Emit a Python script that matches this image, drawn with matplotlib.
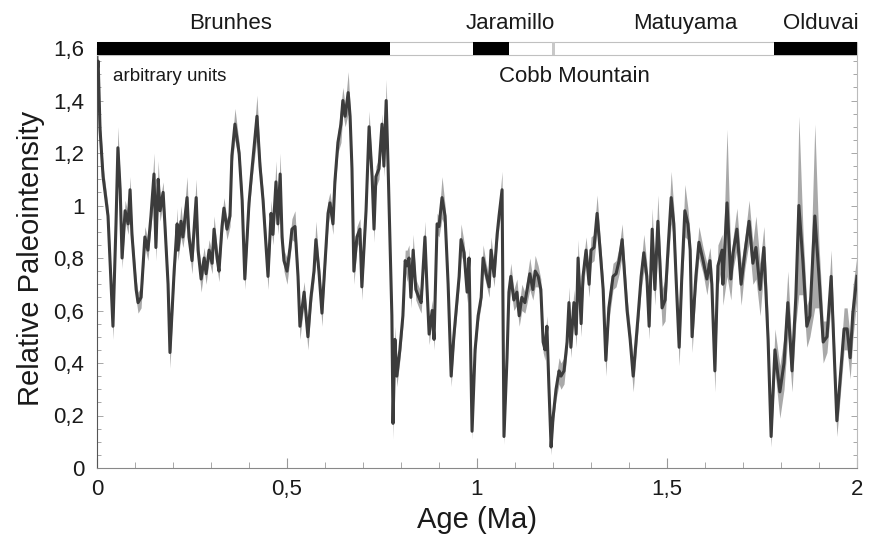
import matplotlib
matplotlib.use("Agg")
import matplotlib.pyplot as plt
from matplotlib.patches import Rectangle
from matplotlib.ticker import MultipleLocator, FixedLocator
import numpy as np

plt.rcParams['font.family'] = ['Liberation Sans', 'DejaVu Sans']

# ---- data -------------------------------------------------------------
age = [
    0.000, 0.003, 0.008, 0.016, 0.029, 0.034, 0.042, 0.050, 0.055, 0.061,
    0.066, 0.074, 0.082, 0.087, 0.092, 0.103, 0.108, 0.116, 0.126, 0.134,
    0.142, 0.150, 0.155, 0.161, 0.166, 0.174, 0.179, 0.187, 0.192, 0.203,
    0.211, 0.213, 0.221, 0.226, 0.237, 0.242, 0.250, 0.261, 0.266, 0.274,
    0.282, 0.287, 0.295, 0.303, 0.308, 0.316, 0.321, 0.329, 0.334, 0.342,
    0.350, 0.355, 0.363, 0.374, 0.382, 0.389, 0.400, 0.408, 0.421, 0.429,
    0.437, 0.450, 0.458, 0.463, 0.471, 0.476, 0.482, 0.487, 0.492, 0.500,
    0.508, 0.513, 0.521, 0.529, 0.534, 0.545, 0.555, 0.563, 0.571, 0.576,
    0.584, 0.592, 0.600, 0.608, 0.613, 0.621, 0.626, 0.634, 0.642, 0.647,
    0.653, 0.661, 0.666, 0.671, 0.676, 0.684, 0.692, 0.697, 0.708, 0.716,
    0.724, 0.729, 0.734, 0.742, 0.750, 0.755, 0.761, 0.766, 0.776, 0.779,
    0.784, 0.789, 0.797, 0.805, 0.811, 0.816, 0.821, 0.826, 0.832, 0.839,
    0.847, 0.853, 0.863, 0.868, 0.874, 0.882, 0.887, 0.895, 0.900, 0.908,
    0.916, 0.924, 0.932, 0.939, 0.945, 0.953, 0.958, 0.966, 0.974, 0.979,
    0.987, 0.995, 1.003, 1.011, 1.016, 1.024, 1.032, 1.037, 1.045, 1.053,
    1.058, 1.066, 1.071, 1.079, 1.084, 1.089, 1.097, 1.105, 1.111, 1.118,
    1.126, 1.132, 1.139, 1.147, 1.153, 1.161, 1.168, 1.174, 1.179, 1.184,
    1.189, 1.195, 1.200, 1.208, 1.216, 1.221, 1.229, 1.237, 1.242, 1.247,
    1.255, 1.261, 1.266, 1.274, 1.279, 1.287, 1.295, 1.300, 1.308, 1.316,
    1.324, 1.332, 1.339, 1.347, 1.358, 1.366, 1.374, 1.382, 1.395, 1.403,
    1.411, 1.424, 1.432, 1.439, 1.447, 1.453, 1.461, 1.468, 1.476, 1.487,
    1.495, 1.503, 1.511, 1.518, 1.524, 1.532, 1.539, 1.547, 1.555, 1.561,
    1.566, 1.576, 1.584, 1.595, 1.605, 1.613, 1.618, 1.626, 1.634, 1.645,
    1.647, 1.658, 1.668, 1.674, 1.684, 1.695, 1.705, 1.716, 1.726, 1.734,
    1.745, 1.755, 1.766, 1.774, 1.784, 1.797, 1.808, 1.818, 1.829, 1.839,
    1.847, 1.858, 1.868, 1.876, 1.889, 1.900, 1.911, 1.921, 1.932, 1.947,
    1.966, 1.974, 1.982, 1.989, 2.000,
]

intensity = [
    1.50, 1.55, 1.29, 1.11, 0.96, 0.80, 0.54, 0.93, 1.22, 1.06,
    0.80, 0.98, 0.93, 1.06, 0.89, 0.68, 0.63, 0.65, 0.88, 0.83,
    0.96, 1.12, 0.84, 1.10, 0.98, 1.05, 0.92, 0.70, 0.44, 0.75,
    0.93, 0.83, 0.94, 0.88, 1.03, 0.88, 0.79, 1.03, 0.83, 0.72,
    0.80, 0.74, 0.83, 0.78, 0.91, 0.80, 0.75, 0.92, 0.99, 0.91,
    0.96, 1.19, 1.31, 1.20, 1.02, 0.72, 1.01, 1.14, 1.34, 1.15,
    1.02, 0.73, 0.97, 0.89, 1.09, 0.93, 1.12, 0.88, 0.79, 0.75,
    0.84, 0.91, 0.92, 0.73, 0.54, 0.67, 0.50, 0.65, 0.75, 0.87,
    0.75, 0.59, 0.78, 0.97, 1.01, 0.93, 1.09, 1.24, 1.31, 1.40,
    1.34, 1.43, 1.34, 1.14, 0.75, 0.88, 0.91, 0.69, 0.98, 1.30,
    1.11, 0.91, 1.11, 1.14, 1.31, 1.15, 1.40, 1.15, 0.58, 0.17,
    0.49, 0.35, 0.45, 0.58, 0.79, 0.77, 0.80, 0.65, 0.83, 0.68,
    0.65, 0.63, 0.88, 0.70, 0.51, 0.60, 0.49, 0.93, 0.92, 1.03,
    0.96, 0.70, 0.35, 0.50, 0.60, 0.73, 0.87, 0.82, 0.67, 0.80,
    0.14, 0.45, 0.58, 0.65, 0.80, 0.74, 0.69, 0.83, 0.73, 0.89,
    0.96, 1.06, 0.12, 0.42, 0.67, 0.73, 0.64, 0.67, 0.58, 0.65,
    0.63, 0.68, 0.74, 0.68, 0.75, 0.73, 0.68, 0.48, 0.45, 0.54,
    0.32, 0.08, 0.19, 0.30, 0.37, 0.35, 0.37, 0.48, 0.63, 0.46,
    0.63, 0.51, 0.80, 0.55, 0.73, 0.83, 0.70, 0.83, 0.84, 0.97,
    0.83, 0.68, 0.41, 0.61, 0.73, 0.74, 0.79, 0.87, 0.60, 0.49,
    0.35, 0.58, 0.73, 0.82, 0.73, 0.54, 0.91, 0.68, 0.94, 0.61,
    0.64, 0.84, 1.03, 0.93, 0.72, 0.46, 0.73, 0.98, 0.93, 0.83,
    0.50, 0.73, 0.86, 0.79, 0.72, 0.79, 0.70, 0.37, 0.77, 0.83,
    0.70, 1.01, 0.72, 0.82, 0.91, 0.70, 0.82, 0.94, 0.78, 0.84,
    0.68, 0.84, 0.49, 0.12, 0.45, 0.29, 0.40, 0.63, 0.37, 0.65,
    1.00, 0.78, 0.54, 0.58, 0.96, 0.73, 0.48, 0.50, 0.73, 0.18,
    0.53, 0.53, 0.42, 0.59, 0.73,
]

error = [
    0.04, 0.06, 0.05, 0.04, 0.04, 0.04, 0.05, 0.04, 0.08, 0.04,
    0.04, 0.04, 0.04, 0.05, 0.04, 0.04, 0.04, 0.04, 0.04, 0.04,
    0.04, 0.08, 0.05, 0.07, 0.04, 0.04, 0.04, 0.04, 0.06, 0.04,
    0.06, 0.04, 0.06, 0.04, 0.08, 0.04, 0.05, 0.07, 0.04, 0.05,
    0.04, 0.04, 0.04, 0.04, 0.05, 0.04, 0.04, 0.04, 0.04, 0.04,
    0.04, 0.04, 0.06, 0.04, 0.04, 0.04, 0.04, 0.04, 0.08, 0.04,
    0.04, 0.05, 0.05, 0.04, 0.08, 0.04, 0.08, 0.04, 0.04, 0.05,
    0.04, 0.04, 0.06, 0.04, 0.05, 0.04, 0.05, 0.04, 0.04, 0.07,
    0.04, 0.05, 0.04, 0.05, 0.04, 0.04, 0.04, 0.04, 0.07, 0.05,
    0.04, 0.08, 0.04, 0.04, 0.05, 0.04, 0.04, 0.05, 0.04, 0.06,
    0.04, 0.05, 0.04, 0.04, 0.04, 0.04, 0.08, 0.04, 0.04, 0.06,
    0.05, 0.04, 0.04, 0.04, 0.04, 0.06, 0.05, 0.04, 0.06, 0.04,
    0.04, 0.04, 0.06, 0.04, 0.04, 0.04, 0.04, 0.04, 0.04, 0.08,
    0.04, 0.04, 0.04, 0.04, 0.04, 0.04, 0.06, 0.04, 0.04, 0.04,
    0.03, 0.03, 0.03, 0.03, 0.05, 0.04, 0.04, 0.05, 0.04, 0.04,
    0.04, 0.07, 0.03, 0.03, 0.04, 0.05, 0.04, 0.05, 0.04, 0.05,
    0.04, 0.05, 0.06, 0.04, 0.06, 0.04, 0.04, 0.04, 0.04, 0.04,
    0.04, 0.03, 0.03, 0.04, 0.05, 0.05, 0.05, 0.04, 0.06, 0.04,
    0.05, 0.05, 0.07, 0.05, 0.05, 0.05, 0.05, 0.05, 0.05, 0.07,
    0.05, 0.05, 0.06, 0.05, 0.05, 0.05, 0.05, 0.06, 0.05, 0.05,
    0.06, 0.05, 0.05, 0.07, 0.05, 0.05, 0.08, 0.06, 0.10, 0.07,
    0.08, 0.06, 0.10, 0.06, 0.06, 0.07, 0.06, 0.10, 0.06, 0.06,
    0.06, 0.06, 0.06, 0.05, 0.06, 0.05, 0.06, 0.08, 0.08, 0.06,
    0.08, 0.28, 0.08, 0.06, 0.08, 0.08, 0.06, 0.08, 0.08, 0.12,
    0.10, 0.08, 0.10, 0.04, 0.08, 0.10, 0.10, 0.12, 0.08, 0.10,
    0.34, 0.12, 0.08, 0.08, 0.35, 0.12, 0.08, 0.06, 0.10, 0.06,
    0.08, 0.08, 0.08, 0.10, 0.08,
]

# polarity chrons: (start, end, colour)
chron_start = [0.0, 0.989, 1.197, 1.782]
chron_end = [0.772, 1.084, 1.205, 2.0]
chron_color = ['black', 'black', '#c8c8c8', 'black']

chron_labels = ['Brunhes', 'Jaramillo', 'Matuyama', 'Olduvai']
chron_label_x = [0.352, 1.087, 1.547, 1.905]

x_ticks = [0, 0.5, 1, 1.5, 2]
x_ticklabels = ['0', '0,5', '1', '1,5', '2']
y_ticks = [0, 0.2, 0.4, 0.6, 0.8, 1.0, 1.2, 1.4, 1.6]
y_ticklabels = ['0', '0,2', '0,4', '0,6', '0,8', '1', '1,2', '1,4', '1,6']

# ---- figure -----------------------------------------------------------
W, H = 869, 538
fig = plt.figure(figsize=(W / 100, H / 100), dpi=100)
ax = fig.add_axes([97 / W, (H - 468) / H, (857 - 97) / W, (468 - 48) / H])

a = np.array(age)
v = np.array(intensity)
e = np.array(error)
ax.fill_between(a, v - e, v + e, color='#a9a9a9', lw=0, zorder=2)
ax.plot(a, v, color='#3c3c3c', lw=2.2, zorder=3, solid_joinstyle='round')

ax.set_xlim(0, 2)
ax.set_ylim(0, 1.6)

# polarity bar
bar_lo, bar_hi = 1.573, 1.623
ax.add_patch(Rectangle((0, bar_lo), 2, bar_hi - bar_lo, facecolor='white',
                       edgecolor='#c0c0c0', lw=0.8, clip_on=False, zorder=5))
for s, en, c in zip(chron_start, chron_end, chron_color):
    ax.add_patch(Rectangle((s, bar_lo), en - s, bar_hi - bar_lo, facecolor=c,
                           edgecolor='none', clip_on=False, zorder=6))

for lab, xx in zip(chron_labels, chron_label_x):
    ax.text(xx, 1.672, lab, ha='center', va='baseline', fontsize=16,
            color='#1a1a1a', clip_on=False)
ax.text(1.257, 1.49, 'Cobb Mountain', ha='center', va='center', fontsize=16,
        color='#1a1a1a')
ax.text(0.042, 1.49, 'arbitrary units', ha='left', va='center', fontsize=13.5,
        color='#1a1a1a')

# spines
ax.spines['top'].set_visible(False)
ax.spines['left'].set_color('#555555')
ax.spines['bottom'].set_color('#888888')
ax.spines['right'].set_color('#bbbbbb')
for sp in ax.spines.values():
    sp.set_linewidth(0.8)

ax.xaxis.set_major_locator(FixedLocator(x_ticks))
ax.set_xticklabels(x_ticklabels)
ax.xaxis.set_minor_locator(MultipleLocator(0.1))
ax.yaxis.set_major_locator(FixedLocator(y_ticks))
ax.set_yticklabels(y_ticklabels)
ax.yaxis.set_minor_locator(MultipleLocator(0.05))

ax.tick_params(axis='both', which='both', direction='in', colors='#999999',
               labelcolor='#1a1a1a', labelsize=16)
ax.tick_params(axis='x', which='major', length=7, width=0.8, pad=8)
ax.tick_params(axis='x', which='minor', length=4, width=0.6)
ax.tick_params(axis='y', which='major', length=4, width=0.6, pad=9,
               right=True)
ax.tick_params(axis='y', which='minor', length=3, width=0.6, right=True)

ax.set_xlabel('Age (Ma)', fontsize=21, color='#1a1a1a', labelpad=4)
ax.set_ylabel('Relative Paleointensity', fontsize=21, color='#1a1a1a',
              labelpad=6)

fig.savefig('out.png', dpi=100, facecolor='white')
